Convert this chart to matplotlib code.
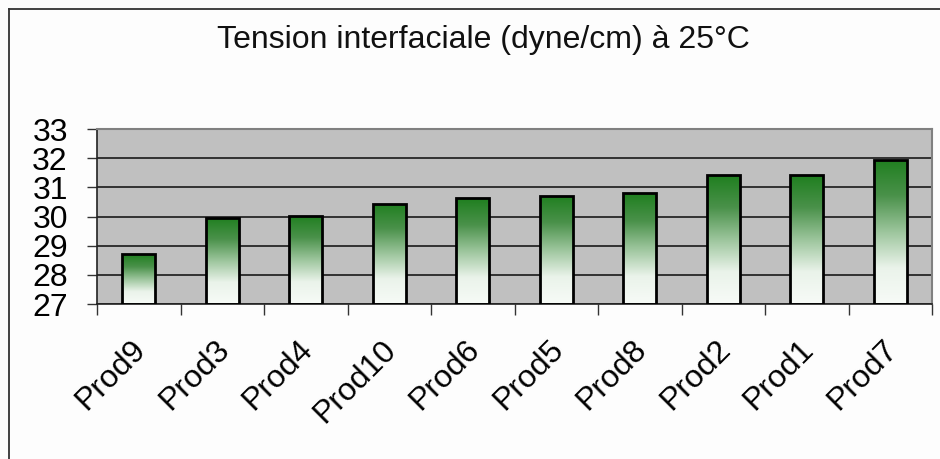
import numpy as np
import matplotlib
matplotlib.use("Agg")
import matplotlib.pyplot as plt
import matplotlib.transforms as mtransforms
from matplotlib.colors import LinearSegmentedColormap
from matplotlib.lines import Line2D

plt.rcParams['font.family'] = ['Liberation Sans', 'DejaVu Sans']

# tension interfaciale par produit, triée
products = ['Prod9', 'Prod3', 'Prod4', 'Prod10', 'Prod6',
            'Prod5', 'Prod8', 'Prod2', 'Prod1', 'Prod7']
tension = [28.7, 29.95, 30.03, 30.43, 30.62, 30.72, 30.8, 31.42, 31.42, 31.95]
y_ticks = [27, 28, 29, 30, 31, 32, 33]

fig = plt.figure(figsize=(9.4, 4.59), dpi=100)
fig.patch.set_facecolor('#fdfdfd')
ax = fig.add_axes([97 / 940, 1 - 304 / 459, 835 / 940, 175 / 459])
ax.set_facecolor('#c0c0c0')

ax.set_yticks(y_ticks)
ax.yaxis.grid(True, color='#1a1a1a', linewidth=1.2)
ax.set_axisbelow(True)

green = LinearSegmentedColormap.from_list(
    'grad', ['#f7fbf7', '#eaf3ea', '#9cc59c', '#4a914a', '#1f7f1f'])
grad = np.linspace(0, 1, 256).reshape(-1, 1)

x = np.arange(len(products))
bars = ax.bar(x, np.array(tension) - 27, bottom=27, width=0.4,
              facecolor='none', edgecolor='black', linewidth=2, zorder=3)
for b in bars:
    x0, y0 = b.get_x(), b.get_y()
    im = ax.imshow(grad, cmap=green, aspect='auto', origin='lower',
                   extent=[x0, x0 + b.get_width(), y0, y0 + b.get_height()],
                   zorder=2)
    im.set_clip_path(b)

ax.set_xlim(-0.5, len(products) - 0.5)
ax.set_ylim(27, 33)

# ticks between categories
ax.set_xticks(np.arange(len(products) + 1) - 0.5)
ax.set_xticklabels([])
ax.set_xticks(x, minor=True)
ax.set_xticklabels(products, minor=True, rotation=45, ha='right',
                   rotation_mode='anchor', fontsize=23)
ax.tick_params(axis='x', which='minor', length=0, pad=22)
ax.tick_params(axis='x', which='major', length=8, width=1, color='#333333',
               direction='out')
ax.tick_params(axis='y', length=7, width=1, color='#333333', pad=14,
               labelsize=23)

shift = mtransforms.ScaledTranslation(-8 / 100, 0, fig.dpi_scale_trans)
for lab in ax.get_xticklabels(minor=True):
    lab.set_transform(lab.get_transform() + shift)

for s in ['top', 'right']:
    ax.spines[s].set_color('#808080')
    ax.spines[s].set_linewidth(1.5)
for s in ['left', 'bottom']:
    ax.spines[s].set_color('#222222')
    ax.spines[s].set_linewidth(1.2)

fig.text(0.514, 1 - 40 / 459, 'Tension interfaciale (dyne/cm) à 25°C',
         ha='center', va='center', fontsize=23, color='#111111')

# cadre du graphique
fig.add_artist(Line2D([8.5 / 940, 1], [1 - 8.5 / 459, 1 - 8.5 / 459],
                      color='#333333', linewidth=1.3))
fig.add_artist(Line2D([8.5 / 940, 8.5 / 940], [0, 1 - 8.5 / 459],
                      color='#333333', linewidth=1.3))

fig.savefig('out.png', dpi=100, facecolor=fig.get_facecolor())
